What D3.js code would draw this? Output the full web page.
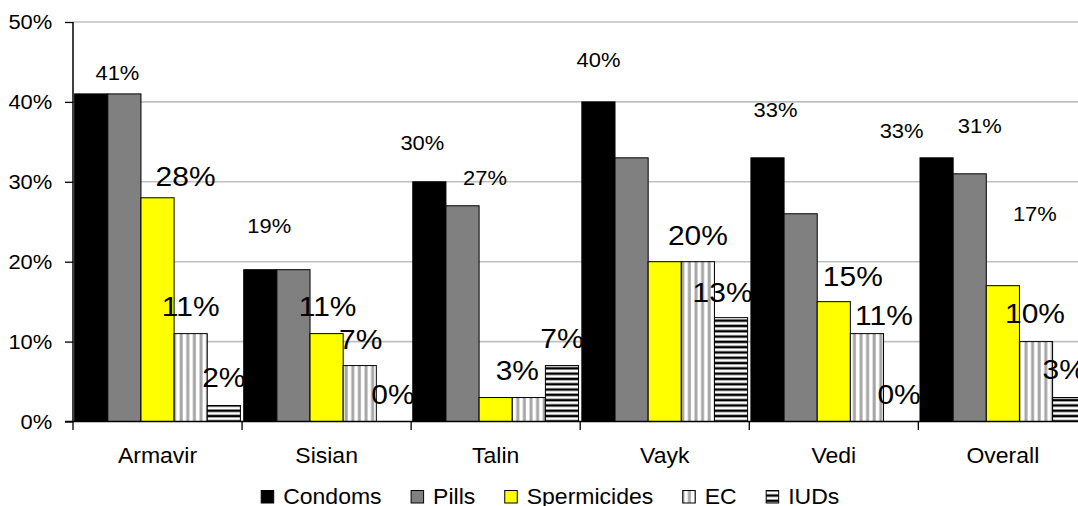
<!DOCTYPE html>
<html>
<head>
<meta charset="utf-8">
<script src="https://cdn.jsdelivr.net/npm/d3@7"></script>
<style>
  html, body { margin: 0; padding: 0; background: #fff; }
  svg { display: block; font-family: "Liberation Sans", Arial, sans-serif; }
</style>
</head>
<body>
<svg id="chart" width="1078" height="506"></svg>
<script>
// ---- data ----
const categories = ["Armavir", "Sisian", "Talin", "Vayk", "Vedi", "Overall"];
const seriesNames = ["Condoms", "Pills", "Spermicides", "EC", "IUDs"];
const condoms     = [41, 19, 30, 40, 33, 33];
const pills       = [41, 19, 27, 33, 26, 31];
const spermicides = [28, 11,  3, 20, 15, 17];
const ec          = [11,  7,  3, 20, 11, 10];
const iuds        = [ 2,  0,  7, 13,  0,  3];
const yTicks = [0, 10, 20, 30, 40, 50];
// which data labels are visible: [category index, series index, big font?]
const shownLabels = [
  [0,1,0],[0,2,1],[0,3,1],[0,4,1],
  [1,0,0],[1,2,1],[1,3,1],[1,4,1],
  [2,0,0],[2,1,0],[2,3,1],[2,4,1],
  [3,0,0],[3,3,1],[3,4,1],
  [4,0,0],[4,2,1],[4,3,1],[4,4,1],
  [5,0,0],[5,1,0],[5,2,0],[5,3,1],[5,4,1]
];
// manual label nudges (dx, dy from bar centre / bar top), same order as shownLabels
const labelNudge = [
  [-7,-14],[28,-12],[0,-17.6],[0,-18.5],
  [9,-37],[1,-17.6],[1,-17],[0,-18],
  [-7,-32],[22.5,-21],[-11.5,-18],[0,-18],
  [0,-34.6],[0,-16.7],[-8.5,-16],
  [8,-41],[19,-16],[17,-8.6],[-1,-18],
  [-35,-20],[10,-40.5],[32,-65],[-1,-19],[-5,-19]
];

const seriesValues = [condoms, pills, spermicides, ec, iuds];
const SX = 1.07; // horizontal text stretch of the original

const svg = d3.select("#chart");
const defs = svg.append("defs");

// patterns
const pEC = defs.append("pattern").attr("id", "pEC")
  .attr("patternUnits", "userSpaceOnUse").attr("width", 6.6).attr("height", 10);
pEC.append("rect").attr("width", 6.6).attr("height", 10).attr("fill", "#fff");
pEC.append("rect").attr("x", 1.5).attr("width", 3).attr("height", 10).attr("fill", "#a6a6a6");

const pIUD = defs.append("pattern").attr("id", "pIUD")
  .attr("patternUnits", "userSpaceOnUse").attr("width", 10).attr("height", 5.3);
pIUD.append("rect").attr("width", 10).attr("height", 5.3).attr("fill", "#fff");
pIUD.append("rect").attr("y", 1.4).attr("width", 10).attr("height", 2.5).attr("fill", "#000");

const fills = ["#000000", "#808080", "#ffff00", "url(#pEC)", "url(#pIUD)"];

// scales
const x0 = d3.scaleBand().domain(categories).range([73, 1087.4]).paddingInner(0).paddingOuter(0);
const x1 = d3.scaleBand().domain(seriesNames).range([0, x0.bandwidth()]).paddingInner(0).paddingOuter(0.05);
const y = d3.scaleLinear().domain([0, 50]).range([421.5, 22]);

function sText(g, x, yy, str, size, anchor) {
  return g.append("text")
    .attr("transform", `translate(${x},${yy}) scale(${SX},1)`)
    .attr("text-anchor", anchor)
    .style("font-size", size + "px")
    .attr("fill", "#000")
    .text(str);
}

// gridlines
svg.append("g").selectAll("line").data(yTicks.filter(d => d > 0)).join("line")
  .attr("x1", 73).attr("x2", 1078)
  .attr("y1", d => y(d)).attr("y2", d => y(d))
  .attr("stroke", "#c0c0c0").attr("stroke-width", 1.6);

// y axis
const yAxis = d3.axisLeft(y).tickValues(yTicks).tickSize(8).tickFormat(d => d + "%");
const gy = svg.append("g").attr("transform", "translate(73,0)").call(yAxis);
gy.select(".domain").attr("stroke", "#000").attr("stroke-width", 1.5).attr("d", `M-0.0,${y(0)}V${y(50)}`);
gy.selectAll(".tick line").attr("stroke", "#000").attr("stroke-width", 1.3);
gy.selectAll(".tick text").remove();
yTicks.forEach(t => sText(svg, 52.3, y(t) + 7.2, t + "%", 20.5, "end"));

// bars and labels, group by group
const plot = svg.append("g");
categories.forEach((cat, ci) => {
  const g = plot.append("g");
  seriesNames.forEach((s, si) => {
    const v = seriesValues[si][ci];
    g.append("rect")
      .attr("x", x0(cat) + x1(s))
      .attr("y", y(v))
      .attr("width", x1.bandwidth())
      .attr("height", y(0) - y(v))
      .attr("fill", fills[si])
      .attr("stroke", "#000")
      .attr("stroke-width", 1);
  });
  shownLabels.forEach((L, li) => {
    if (L[0] !== ci) return;
    const s = seriesNames[L[1]];
    const v = seriesValues[L[1]][ci];
    const cx = x0(cat) + x1(s) + x1.bandwidth() / 2 + labelNudge[li][0];
    const cy = y(v) + labelNudge[li][1];
    sText(g, cx, cy, v + "%", L[2] ? 28 : 20.5, "middle");
  });
});

// x axis
const xAxis = d3.axisBottom(x0).tickSize(0).tickFormat("");
const gx = svg.append("g").attr("transform", `translate(0,${y(0)})`).call(xAxis);
gx.select(".domain").attr("stroke", "#000").attr("stroke-width", 1.5).attr("d", "M65,0H1078");
gx.selectAll(".tick").remove();
const boundaries = categories.map(c => x0(c));
svg.append("g").selectAll("line").data(boundaries).join("line")
  .attr("x1", d => d).attr("x2", d => d)
  .attr("y1", y(0)).attr("y2", y(0) + 8.5)
  .attr("stroke", "#000").attr("stroke-width", 1.3);
categories.forEach(c => sText(svg, x0(c) + x0.bandwidth() / 2, 463.3, c, 21.5, "middle"));

// legend
const legend = svg.append("g");
let lx = 260.7;
seriesNames.forEach((s, si) => {
  legend.append("rect").attr("x", lx + 0.5).attr("y", 490.5).attr("width", 12.5).attr("height", 12.5)
    .attr("fill", fills[si]).attr("stroke", "#000").attr("stroke-width", 1);
  const t = sText(legend, lx + 22.5, 504, s, 21.5, "start");
  const w = t.node().getComputedTextLength() * SX;
  lx = lx + 22.5 + w + 29;
});
</script>
</body>
</html>
